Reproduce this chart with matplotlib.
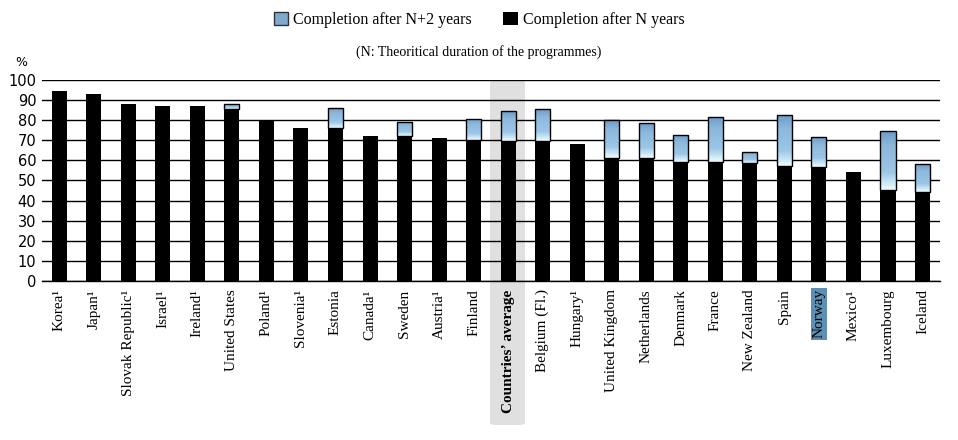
import numpy as np
import matplotlib.pyplot as plt
from matplotlib.patches import Rectangle, FancyBboxPatch
from matplotlib.colors import LinearSegmentedColormap

countries = ['Korea¹', 'Japan¹', 'Slovak Republic¹', 'Israel¹', 'Ireland¹', 'United States',
             'Poland¹', 'Slovenia¹', 'Estonia', 'Canada¹', 'Sweden', 'Austria¹', 'Finland',
             'Countries’ average', 'Belgium (Fl.)', 'Hungary¹', 'United Kingdom', 'Netherlands',
             'Denmark', 'France', 'New Zealand', 'Spain', 'Norway', 'Mexico¹', 'Luxembourg', 'Iceland']
# completion after N years
n_years = [94.5, 93.0, 88.1, 87.1, 87.1, 85.6, 79.9, 76.1, 76.1, 72.1, 72.1, 71.1, 70.1,
           69.8, 69.8, 68.2, 61.2, 61.2, 59.2, 59.2, 58.7, 57.2, 56.7, 54.2, 45.3, 44.3]
# completion after N+2 years (same as N when not available)
n2_years = [94.5, 93.0, 88.1, 87.1, 87.1, 88.1, 79.9, 76.1, 85.9, 72.1, 79.1, 71.1, 80.6,
            84.4, 85.4, 68.2, 79.9, 78.6, 72.5, 81.4, 64.0, 82.4, 71.5, 54.2, 74.5, 58.0]

plt.rcParams['font.family'] = 'Liberation Serif'

fig = plt.figure(figsize=(9.58, 4.4), dpi=100)
ax = fig.add_axes([0.0438, 0.3614, 0.9372, 0.4568])
ax.set_facecolor('none')

x = np.arange(len(countries))
extra = np.array(n2_years) - np.array(n_years)

# grey highlight behind "Countries' average"
hl = FancyBboxPatch((490 / 958, 15 / 440), 35 / 958, 345 / 440,
                    boxstyle='round,pad=0,rounding_size=0.006', transform=fig.transFigure,
                    facecolor='#e0e0e0', edgecolor='none', zorder=-5)
fig.patches.append(hl)

ax.set_ylim(0, 100)
ax.set_yticks(range(0, 101, 10))
ax.yaxis.grid(True, color='black', linewidth=1)
ax.set_axisbelow(True)
for s in ['left', 'right', 'top']:
    ax.spines[s].set_visible(False)
ax.spines['bottom'].set_linewidth(1)
ax.tick_params(axis='y', length=0, pad=4, labelsize=10.5)
ax.tick_params(axis='x', length=0, pad=6)
for lab in ax.get_yticklabels():
    lab.set_fontfamily('DejaVu Sans')

ax.bar(x, n_years, width=0.435, color='black', zorder=2)
tops = ax.bar(x, extra, bottom=n_years, width=0.435, color='#8db7da',
              edgecolor='black', linewidth=1, zorder=4)

# vertical gradient inside the N+2 segments (dark at top, pale at the bottom)
cmap = LinearSegmentedColormap.from_list(
    'bl', [(0, '#6f9dc8'), (0.25, '#8cb8dc'), (0.7, '#9cc6e6'), (0.88, '#c9e7f6'), (1, '#f2fbff')])
grad = np.linspace(0, 1, 64).reshape(-1, 1)
for b, e in zip(tops, extra):
    if e <= 0:
        b.set_visible(False)
        continue
    x0, y0, w, h = b.get_x(), b.get_y(), b.get_width(), b.get_height()
    im = ax.imshow(grad, cmap=cmap, aspect='auto', origin='upper',
                   extent=(x0, x0 + w, y0, y0 + h), zorder=3, interpolation='bilinear')
    im.set_clip_path(b)
    b.set_facecolor('none')

ax.set_xticks(x)
ax.set_xticklabels(countries, rotation=90, fontsize=11)
for lab in ax.get_xticklabels():
    if lab.get_text() == 'Countries’ average':
        lab.set_fontweight('bold')
    if lab.get_text() == 'Norway':
        lab.set_bbox(dict(facecolor='#5d8fb5', edgecolor='none', pad=1))
ax.set_xlim(-0.5, len(countries) - 0.5)

fig.text(15 / 958, 1 - 62 / 440, '%', fontsize=9, family='DejaVu Sans', va='center')

handles = [Rectangle((0, 0), 1, 1, facecolor='#7fa9cd', edgecolor='#333333'),
           Rectangle((0, 0), 1, 1, facecolor='black')]
fig.legend(handles, ['Completion after N+2 years', 'Completion after N years'],
           loc='center', bbox_to_anchor=(0.5, 1 - 20 / 440), ncol=2, frameon=False,
           fontsize=11.5, handlelength=0.9, handleheight=0.9, handletextpad=0.3,
           columnspacing=2.0)
fig.text(0.5, 1 - 52 / 440, '(N: Theoritical duration of the programmes)', fontsize=10,
         ha='center', va='center')

fig.savefig('out.png', dpi=100)
